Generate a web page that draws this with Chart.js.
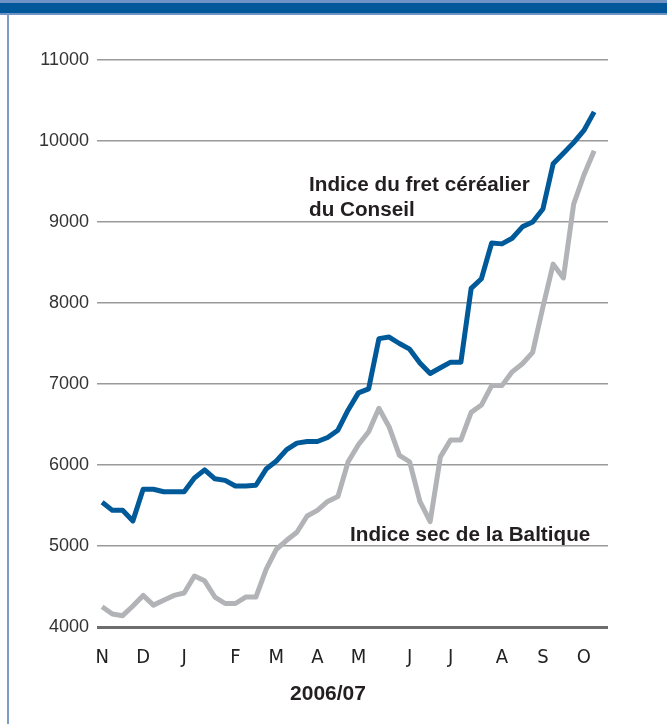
<!DOCTYPE html>
<html lang="fr">
<head>
<meta charset="UTF-8" />
<title>Indice du fret céréalier</title>
<script src="https://cdn.jsdelivr.net/npm/chart.js"></script>
<style>
  html, body { margin: 0; padding: 0; background: #fff; }
  canvas { display: block; }
</style>
</head>
<body>
<canvas id="freightChart" width="667" height="724"></canvas>
<script>
// month labels and the week index where each one sits
const monthLabels = ['N', 'D', 'J', 'F', 'M', 'A', 'M', 'J', 'J', 'A', 'S', 'O'];
const monthWeeks = [0, 4, 8, 13, 17, 21, 25, 30, 34, 39, 43, 47];

const yTicks = [4000, 5000, 6000, 7000, 8000, 9000, 10000, 11000];

// weekly values, Nov 2006 -> Oct 2007
const conseilIndex = [
  5540, 5440, 5440, 5310, 5700, 5700, 5670, 5670, 5670, 5840,
  5940, 5830, 5810, 5740, 5740, 5750, 5950, 6050, 6190, 6270,
  6290, 6290, 6340, 6430, 6680, 6890, 6940, 7560, 7580, 7500,
  7430, 7260, 7130, 7200, 7270, 7270, 8180, 8300, 8740, 8730,
  8800, 8940, 9000, 9160, 9720, 9850, 9980, 10130, 10360
];
const balticIndex = [
  4250, 4160, 4140, 4260, 4390, 4270, 4330, 4390, 4420, 4630,
  4570, 4370, 4290, 4290, 4370, 4370, 4710, 4960, 5070, 5170,
  5370, 5440, 5550, 5610, 6040, 6250, 6410, 6700, 6470, 6120,
  6040, 5550, 5300, 6100, 6310, 6310, 6650, 6740, 6980, 6980,
  7150, 7250, 7390, 7950, 8480, 8310, 9220, 9580, 9880
];

const BLUE = '#005a9a';
const GREY = '#b1b3b6';

// header band, left border and the text labels
const decorations = {
  id: 'decorations',
  beforeDraw(chart) {
    const ctx = chart.ctx;
    ctx.save();
    ctx.fillStyle = '#fff';
    ctx.fillRect(0, 0, chart.width, chart.height);
    ctx.fillStyle = '#6f93c4';
    ctx.fillRect(0, 0, chart.width, 15);
    ctx.fillStyle = '#00579a';
    ctx.fillRect(0, 3, chart.width, 10);
    ctx.fillStyle = '#7b9cc8';
    ctx.fillRect(7, 13, 2, chart.height - 13);
    ctx.restore();
  },
  afterDraw(chart) {
    const ctx = chart.ctx;
    ctx.save();
    ctx.fillStyle = '#231f20';
    ctx.textBaseline = 'alphabetic';
    ctx.textAlign = 'left';
    ctx.font = 'bold 20.7px "Liberation Sans", Arial, sans-serif';
    ctx.fillText('Indice du fret céréalier', 309, 191);
    ctx.fillText('du Conseil', 309, 216);
    ctx.fillText('Indice sec de la Baltique', 350, 541);
    ctx.textAlign = 'center';
    ctx.font = 'bold 21px "Liberation Sans", Arial, sans-serif';
    ctx.fillText('2006/07', 328, 700);
    ctx.restore();
  }
};

new Chart(document.getElementById('freightChart'), {
  type: 'line',
  data: {
    datasets: [
      {
        label: 'Indice sec de la Baltique',
        data: balticIndex.map((v, i) => ({ x: i, y: v })),
        borderColor: GREY,
        borderWidth: 5,
        pointRadius: 0,
        tension: 0,
        borderJoinStyle: 'round'
      },
      {
        label: 'Indice du fret céréalier du Conseil',
        data: conseilIndex.map((v, i) => ({ x: i, y: v })),
        borderColor: BLUE,
        borderWidth: 5,
        pointRadius: 0,
        tension: 0,
        borderJoinStyle: 'round'
      }
    ]
  },
  options: {
    responsive: false,
    animation: false,
    events: [],
    layout: { padding: { left: 0, right: 59, top: 60, bottom: 0 } },
    plugins: { legend: { display: false }, tooltip: { enabled: false } },
    scales: {
      x: {
        type: 'linear',
        min: -0.5,
        max: 49.35,
        afterFit(scale) { scale.height = 97; },
        afterBuildTicks(scale) {
          scale.ticks = monthWeeks.map(w => ({ value: w }));
        },
        grid: { display: false, drawTicks: false },
        border: { display: false },
        ticks: {
          autoSkip: false,
          maxRotation: 0,
          padding: 19,
          color: '#222',
          font: { family: '"Liberation Sans Narrow", "DejaVu Sans Condensed", sans-serif', size: 20 },
          callback(value) {
            const k = monthWeeks.indexOf(value);
            return k >= 0 ? monthLabels[k] : '';
          }
        }
      },
      y: {
        min: 4000,
        max: 11000,
        afterFit(scale) { scale.width = 97; },
        afterBuildTicks(scale) {
          scale.ticks = yTicks.map(v => ({ value: v }));
        },
        grid: {
          drawTicks: false,
          color: ctx => ctx.tick && ctx.tick.value === 4000 ? '#6d6d6d' : '#9a9a9a',
          lineWidth: ctx => ctx.tick && ctx.tick.value === 4000 ? 3 : 1.5
        },
        border: { display: false },
        ticks: {
          padding: 8,
          color: '#333',
          font: { family: '"Liberation Sans", Arial, sans-serif', size: 18 },
          callback: v => String(v)
        }
      }
    }
  },
  plugins: [decorations]
});
</script>
</body>
</html>
